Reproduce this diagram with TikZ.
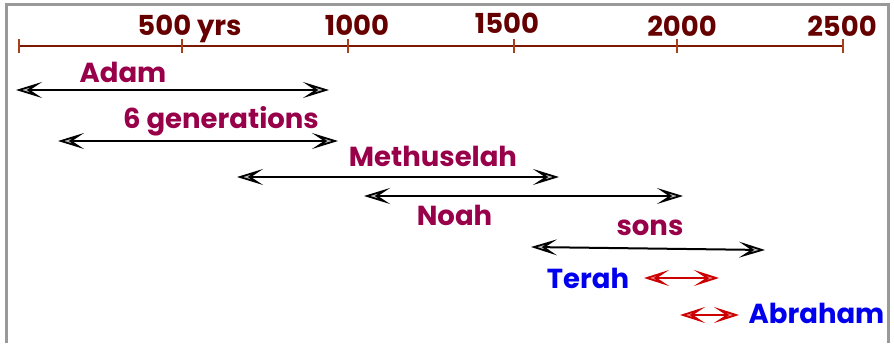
\documentclass[tikz,border=0pt]{standalone}
\usepackage{fontspec}
\setmainfont{Poppins}
\usetikzlibrary{arrows.meta}

\definecolor{framegray}{HTML}{999999}
\definecolor{axisred}{HTML}{7A1800}
\definecolor{tickred}{HTML}{A8401C}
\definecolor{yearred}{HTML}{660000}
\definecolor{namered}{HTML}{99004A}
\definecolor{spanred}{HTML}{CC0000}
\definecolor{nameblue}{HTML}{0000EE}

\tikzset{
    yearlabel/.style={anchor=base, inner sep=0pt, text=yearred, font=\bfseries\fontsize{27.5}{30}\selectfont},
    namelabel/.style={anchor=base, inner sep=0pt, text=namered, font=\bfseries\fontsize{27.5}{30}\selectfont},
    sonlabel/.style={namelabel, text=nameblue},
    lifespan/.style={line width=2pt, >={Stealth[length=26pt, width=16pt, inset=12pt, fill=gray!50, line width=1.8pt]}, <->},
    redspan/.style={lifespan, draw=spanred, >={Stealth[length=25pt, width=16pt, inset=12pt, fill=spanred!45, line width=1.8pt]}},
}

\begin{document}
\begin{tikzpicture}[x=1pt, y=-1pt]
    \useasboundingbox (0, 0) rectangle (894, 343);
    \draw[framegray, line width=3pt] (6.5, 343) -- (6.5, 4.5) -- (888.5, 4.5) -- (888.5, 343);

    % time axis
    \draw[axisred, line width=2.4pt] (19, 46) -- (843, 46);
    \foreach \x in {19, 182, 348, 514, 677, 843}
        \draw[tickred, line width=1.8pt] (\x, 39) -- (\x, 53);

    \node[yearlabel] (y500) at (189.5, 35) {500 yrs};
    \node[yearlabel] (y1000) at (357, 35) {1000};
    \node[yearlabel] (y1500) at (507, 33) {1500};
    \node[yearlabel] (y2000) at (682, 36) {2000};
    \node[yearlabel] (y2500) at (842, 36) {2500};

    % lifespans
    \node[namelabel] (adam) at (123, 82) {Adam};
    \draw[lifespan] (16, 90) -- (329, 90);

    \node[namelabel] (gens) at (221, 128) {6 generations};
    \draw[lifespan] (58, 141) -- (338, 141);

    \node[namelabel] (methuselah) at (433, 166) {Methuselah};
    \draw[lifespan] (237, 177) -- (559, 177);

    \draw[lifespan] (364, 196) -- (683, 196);
    \node[namelabel] (noah) at (454.5, 225) {Noah};

    \node[namelabel] (sons) at (650, 235) {sons};
    \draw[lifespan] (531, 247) -- (765, 250);

    \node[sonlabel] (terah) at (588, 288) {Terah};
    \draw[redspan] (644, 278) -- (719, 278);

    \draw[redspan] (680, 315) -- (739, 315);
    \node[sonlabel] (abraham) at (816.5, 323) {Abraham};
\end{tikzpicture}
\end{document}
